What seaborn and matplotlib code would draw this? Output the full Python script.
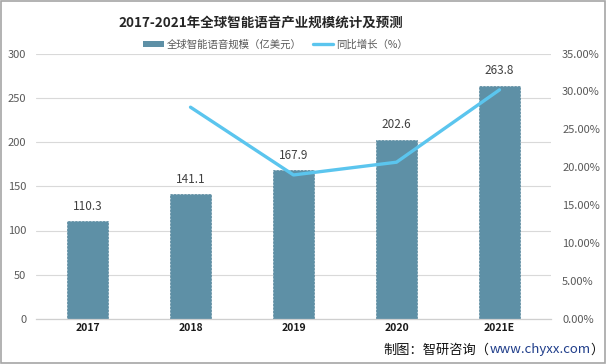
import matplotlib
matplotlib.use("Agg")
import matplotlib.pyplot as plt
import matplotlib.patches as mpatches
from matplotlib.lines import Line2D
import seaborn as sns
import pandas as pd

years = ["2017", "2018", "2019", "2020", "2021E"]
market_size = [110.3, 141.1, 167.9, 202.6, 263.8]
growth_years = ["2018", "2019", "2020", "2021E"]
growth_rate = [27.92, 18.99, 20.67, 30.21]
left_ticks = [0, 50, 100, 150, 200, 250, 300]
right_ticks = [0, 5, 10, 15, 20, 25, 30, 35]

title = "2017-2021年全球智能语音产业规模统计及预测"
bar_label = "全球智能语音规模（亿美元）"
line_label = "同比增长（%）"

sns.set_theme(style="white")
plt.rcParams["font.family"] = ["Noto Sans CJK SC", "DejaVu Sans"]

bar_color = "#5E90A6"
line_color = "#5BC5EE"
tick_color = "#595959"

fig = plt.figure(figsize=(6.06, 3.64), dpi=100)
ax = fig.add_axes([36 / 606, 45 / 364, 515 / 606, 265.5 / 364])

df = pd.DataFrame({"year": years, "size": market_size})
sns.barplot(data=df, x="year", y="size", order=years, color=bar_color,
            width=0.4, saturation=1, ax=ax, zorder=2,
            edgecolor="#55859B", linewidth=0.5, linestyle=(0, (3, 2)))

ax.set_ylim(0, 300)
ax.set_yticks(left_ticks)
ax.set_yticklabels([str(t) for t in left_ticks], fontsize=8, color=tick_color)
ax.set_xlim(-0.5, len(years) - 0.5)
ax.set_xlabel("")
ax.set_ylabel("")
ax.set_xticks(range(len(years)))
ax.set_xticklabels(years, fontsize=7.5, fontweight="bold", color="#1a1a1a")
ax.grid(axis="y", color="#d9d9d9", linewidth=0.8, zorder=0)
ax.set_axisbelow(True)
for s in ["left", "right", "top"]:
    ax.spines[s].set_visible(False)
ax.spines["bottom"].set_color("#cfcfcf")
ax.spines["bottom"].set_linewidth(0.9)
ax.tick_params(axis="both", length=0, pad=3)
ax.tick_params(axis="y", pad=7)

for i, v in enumerate(market_size):
    ax.annotate(f"{v:.1f}", (i, v), xytext=(0, 6), textcoords="offset points",
                ha="center", va="bottom", fontsize=8.5, color="#404040")

ax2 = ax.twinx()
positions = [years.index(y) for y in growth_years]
sns.lineplot(x=positions, y=growth_rate, ax=ax2, color=line_color,
             linewidth=2.4, zorder=3)
ax2.set_ylim(0, 35)
ax2.set_yticks(right_ticks)
ax2.set_yticklabels([f"{t:.2f}%" for t in right_ticks], fontsize=8, color=tick_color)
ax2.set_ylabel("")
for s in ["left", "right", "top", "bottom"]:
    ax2.spines[s].set_visible(False)
ax2.tick_params(axis="y", length=0, pad=8)
ax2.grid(False)

fig.text(0.431, 0.937, title, ha="center", va="center", fontsize=9.7,
         fontweight="bold", color="#262626")

handles = [mpatches.Patch(facecolor=bar_color, edgecolor="none", label=bar_label),
           Line2D([0], [0], color=line_color, linewidth=2.4, label=line_label)]
fig.legend(handles=handles, loc="center", bbox_to_anchor=(0.455, 0.878), ncol=2,
           frameon=False, fontsize=7.5, labelcolor=tick_color, handlelength=2.0,
           handleheight=0.55, handletextpad=0.3, columnspacing=1.0)

# footer
renderer = fig.canvas.get_renderer()
parts = [("制图：智研咨询（", "#111111"), ("www.chyxx.com", "#1F3D8A"), ("）", "#111111")]
x = 604 / 606
y = 14 / 364
for txt, col in reversed(parts):
    t = fig.text(x, y, txt, ha="right", va="center", fontsize=9.5, color=col)
    bb = t.get_window_extent(renderer=renderer)
    x -= bb.width / fig.bbox.width

fig.patches.append(mpatches.Rectangle((0.001, 0.002), 0.997, 0.995, transform=fig.transFigure,
                                      fill=False, edgecolor="#a6a6a6", linewidth=1.2))

fig.savefig("out.png", dpi=100)
